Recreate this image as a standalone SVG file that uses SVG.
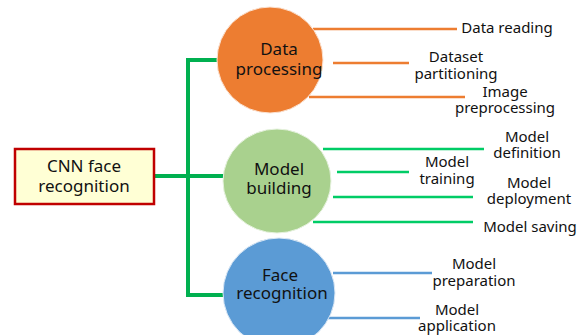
<svg xmlns="http://www.w3.org/2000/svg" width="586" height="335" viewBox="0 0 586 335">
<style>
text{font-family:"Noto Sans","Open Sans","DejaVu Sans",sans-serif;fill:#111;text-anchor:middle}
.big{font-size:17px}
.lbl{font-size:15px}
.trunk{stroke:#00B050;stroke-width:4;fill:none}
.o{stroke:#ED7D31;stroke-width:2.5}
.g{stroke:#00CC66;stroke-width:2.5}
.b{stroke:#5B9BD5;stroke-width:2.5}
</style>
<rect width="586" height="335" fill="#fff"/>
<g id="connectors">
<path class="trunk" d="M217 60H188V295H224M154 176H224"/>
<line class="o" x1="313" y1="29" x2="457" y2="29"/>
<line class="o" x1="333" y1="63" x2="409" y2="63"/>
<line class="o" x1="309" y1="97" x2="465" y2="97"/>
<line class="g" x1="323" y1="149" x2="484" y2="149"/>
<line class="g" x1="337" y1="172" x2="409" y2="172"/>
<line class="g" x1="333" y1="197" x2="473" y2="197"/>
<line class="g" x1="313" y1="222" x2="473" y2="222"/>
<line class="b" x1="333" y1="273" x2="432" y2="273"/>
<line class="b" x1="324" y1="318" x2="420" y2="318"/>
</g>
<g id="root">
<rect x="15" y="149" width="139" height="55" fill="#FFFFD5" stroke="#C00000" stroke-width="2.5"/>
<text class="big" x="84" y="172">CNN face</text>
<text class="big" x="84" y="192">recognition</text>
</g>
<g id="data-processing">
<circle cx="270" cy="60" r="53" fill="#ED7D31" stroke="#fbe3d3" stroke-width="1"/>
<text class="big" x="279" y="55">Data</text>
<text class="big" x="279" y="75">processing</text>
</g>
<g id="model-building">
<ellipse cx="277" cy="181" rx="54" ry="52" fill="#A9D18E" stroke="#e6f2de" stroke-width="1"/>
<text class="big" x="279" y="175">Model</text>
<text class="big" x="279" y="194">building</text>
</g>
<g id="face-recognition">
<ellipse cx="279" cy="293" rx="56" ry="55" fill="#5B9BD5" stroke="#dbe8f5" stroke-width="1"/>
<text class="big" x="280" y="281">Face</text>
<text class="big" x="282" y="299">recognition</text>
</g>
<g id="data-reading"><text class="lbl" x="507" y="33">Data reading</text></g>
<g id="dataset-partitioning"><text class="lbl" x="456" y="62">Dataset</text><text class="lbl" x="456" y="79">partitioning</text></g>
<g id="image-preprocessing"><text class="lbl" x="505" y="97">Image</text><text class="lbl" x="505" y="113">preprocessing</text></g>
<g id="model-definition"><text class="lbl" x="527" y="142">Model</text><text class="lbl" x="527" y="158">definition</text></g>
<g id="model-training"><text class="lbl" x="447" y="167">Model</text><text class="lbl" x="447" y="184">training</text></g>
<g id="model-deployment"><text class="lbl" x="529" y="188">Model</text><text class="lbl" x="529" y="204">deployment</text></g>
<g id="model-saving"><text class="lbl" x="530" y="232">Model saving</text></g>
<g id="model-preparation"><text class="lbl" x="474" y="269">Model</text><text class="lbl" x="474" y="286">preparation</text></g>
<g id="model-application"><text class="lbl" x="457" y="315">Model</text><text class="lbl" x="457" y="331">application</text></g>
</svg>
